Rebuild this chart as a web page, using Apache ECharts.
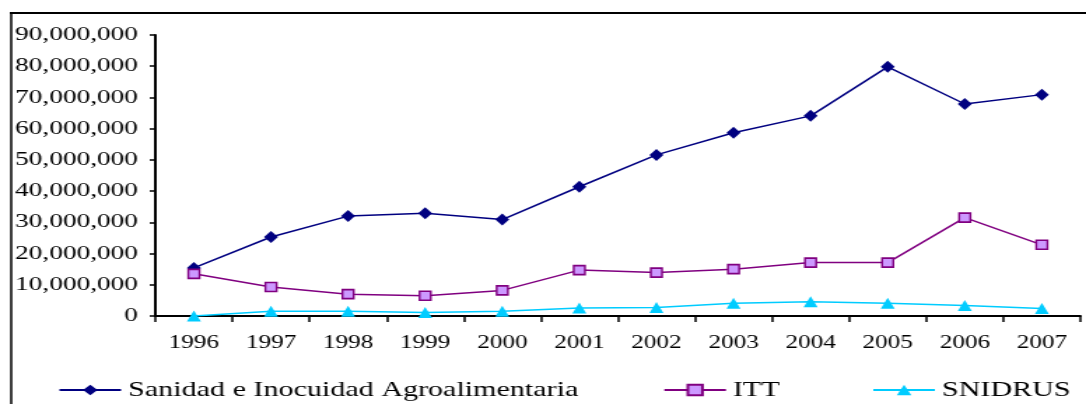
<!DOCTYPE html>
<html>
<head>
<meta charset="utf-8">
<script src="https://cdn.jsdelivr.net/npm/echarts@6/dist/echarts.min.js"></script>
<style>
  html, body { margin: 0; padding: 0; background: #fff; overflow: hidden; }
  /* the original picture is stretched horizontally, so draw narrow and scale */
  #chart { width: 776px; height: 404px; transform: scaleX(1.3995); transform-origin: 0 0; }
</style>
</head>
<body>
<div id="chart"></div>
<script>
const years = ["1996", "1997", "1998", "1999", "2000", "2001", "2002", "2003", "2004", "2005", "2006", "2007"];
const sanidad = [15400000, 25300000, 32000000, 32900000, 30900000, 41400000, 51600000, 58700000, 64100000, 79800000, 67900000, 70900000];
const itt = [13500000, 9300000, 7000000, 6500000, 8200000, 14700000, 13900000, 15000000, 17100000, 17100000, 31500000, 22800000];
const snidrus = [0, 1500000, 1500000, 1100000, 1500000, 2600000, 2700000, 4100000, 4600000, 4100000, 3400000, 2400000];
const yTicks = { min: 0, max: 90000000, interval: 10000000 };

const serif = "'Liberation Serif', 'DejaVu Serif', serif";

const chart = echarts.init(document.getElementById("chart"));

const legendBase = {
  top: 379,
  padding: 0,
  itemWidth: 44,
  itemHeight: 13,
  textStyle: { fontFamily: serif, fontSize: 21.5, color: "#000" },
};

const options = {
  animation: false,
  backgroundColor: "#fff",
  // frame of the chart area
  graphic: [
    { type: "line", shape: { x1: 7, y1: 13, x2: 800, y2: 13 }, style: { stroke: "#000", lineWidth: 2 } },
    { type: "line", shape: { x1: 8, y1: 13, x2: 8, y2: 420 }, style: { stroke: "#000", lineWidth: 1.5 } },
  ],
  grid: { left: 111, right: 4, top: 35, bottom: 88 },
  legend: [
    Object.assign({ left: 41.5, data: ["Sanidad e Inocuidad Agroalimentaria"] }, legendBase),
    Object.assign({ left: 473.7, data: ["ITT"] }, legendBase),
    Object.assign({ left: 623, data: ["SNIDRUS"] }, legendBase),
  ],
  xAxis: {
    type: "category",
    data: years,
    boundaryGap: true,
    axisLine: { lineStyle: { color: "#000", width: 2 } },
    axisTick: { show: true, length: 6, lineStyle: { color: "#000", width: 1.5 } },
    axisLabel: { fontFamily: serif, fontSize: 18, color: "#000", margin: 18, interval: 0 },
  },
  yAxis: {
    type: "value",
    min: yTicks.min,
    max: yTicks.max,
    interval: yTicks.interval,
    splitLine: { show: false },
    axisLine: { show: true, lineStyle: { color: "#000", width: 2 } },
    axisTick: { show: true, length: 4, lineStyle: { color: "#000", width: 1.5 } },
    axisLabel: {
      fontFamily: serif,
      fontSize: 19.5,
      color: "#000",
      margin: 12.5,
      formatter: (v) => v.toLocaleString("en-US"),
    },
  },
  series: [
    {
      name: "Sanidad e Inocuidad Agroalimentaria",
      type: "line",
      data: sanidad,
      symbol: "diamond",
      symbolSize: [10, 12],
      lineStyle: { color: "#000080", width: 1.5 },
      itemStyle: { color: "#000080" },
    },
    {
      name: "ITT",
      type: "line",
      data: itt,
      symbol: "rect",
      symbolSize: [8, 9],
      lineStyle: { color: "#800080", width: 1.5 },
      itemStyle: { color: "#CC99FF", borderColor: "#800080", borderWidth: 1.5 },
    },
    {
      name: "SNIDRUS",
      type: "line",
      data: snidrus,
      symbol: "triangle",
      symbolSize: [10, 11],
      lineStyle: { color: "#00CCFF", width: 1.5 },
      itemStyle: { color: "#00CCFF" },
    },
  ],
};

chart.setOption(options);
</script>
</body>
</html>
